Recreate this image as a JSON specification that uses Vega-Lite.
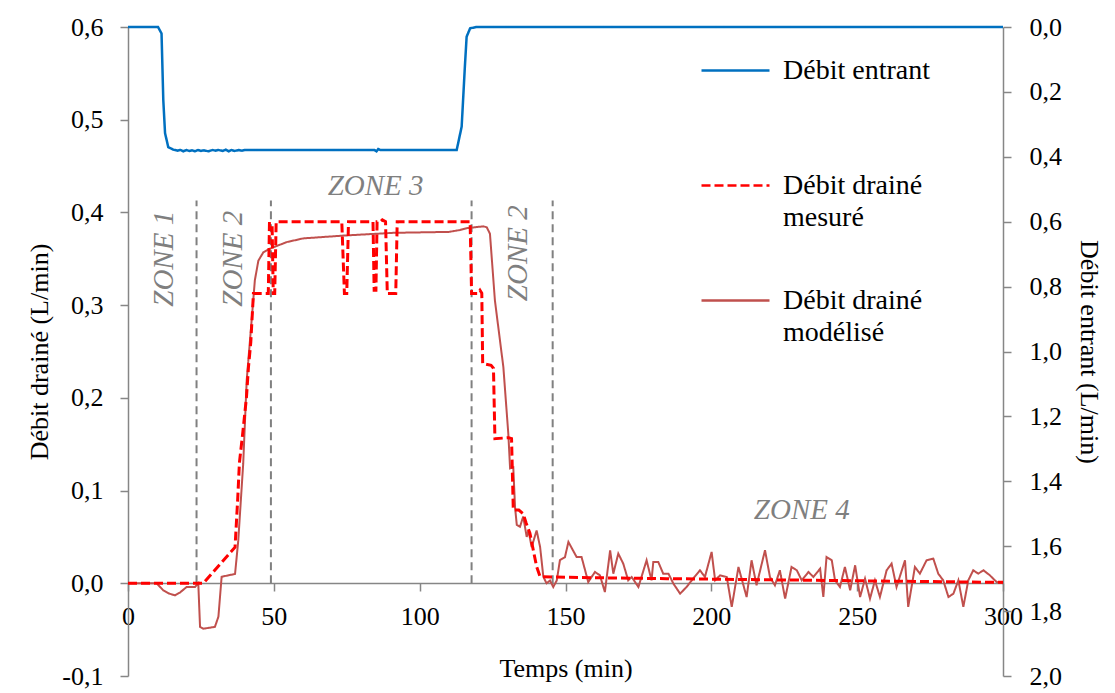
{
  "$schema": "https://vega.github.io/schema/vega-lite/v6.json",
  "width": 875,
  "height": 649,
  "autosize": {"type": "none"},
  "padding": {"left": 128, "top": 27, "right": 112, "bottom": 17},
  "background": "white",
  "config": {
    "view": {"stroke": null},
    "font": "Liberation Serif",
    "axis": {
      "domainColor": "#868686", "tickColor": "#868686", "domainWidth": 1.5, "tickWidth": 1.5, "tickSize": 8,
      "grid": false, "labelFont": "Liberation Serif", "labelFontSize": 26, "labelColor": "black",
      "titleFont": "Liberation Serif", "titleFontSize": 26, "titleFontWeight": "normal", "titleColor": "black"
    },
    "legend": {
      "symbolType": "stroke", "symbolSize": 4624, "symbolStrokeWidth": 2.5,
      "labelFont": "Liberation Serif", "labelFontSize": 28, "labelColor": "black",
      "labelOffset": 12, "rowPadding": 33, "labelLimit": 400
    },
    "style": {"guide-label": {"lineHeight": 32}}
  },
  "datasets": {
    "drained": [
      {"s": "Débit drainé modélisé", "t": 0, "v": 0},
      {"s": "Débit drainé modélisé", "t": 9.8, "v": 0},
      {"s": "Débit drainé modélisé", "t": 12.1, "v": -0.0076},
      {"s": "Débit drainé modélisé", "t": 14, "v": -0.011},
      {"s": "Débit drainé modélisé", "t": 16.1, "v": -0.013},
      {"s": "Débit drainé modélisé", "t": 17.8, "v": -0.010},
      {"s": "Débit drainé modélisé", "t": 20.1, "v": -0.004},
      {"s": "Débit drainé modélisé", "t": 23, "v": -0.004},
      {"s": "Débit drainé modélisé", "t": 24.1, "v": 0},
      {"s": "Débit drainé modélisé", "t": 24.7, "v": -0.047},
      {"s": "Débit drainé modélisé", "t": 25.8, "v": -0.049},
      {"s": "Débit drainé modélisé", "t": 29.8, "v": -0.047},
      {"s": "Débit drainé modélisé", "t": 31, "v": -0.036},
      {"s": "Débit drainé modélisé", "t": 32.1, "v": 0.007},
      {"s": "Débit drainé modélisé", "t": 35, "v": 0.009},
      {"s": "Débit drainé modélisé", "t": 36.7, "v": 0.010},
      {"s": "Débit drainé modélisé", "t": 37.8, "v": 0.046},
      {"s": "Débit drainé modélisé", "t": 39.5, "v": 0.129},
      {"s": "Débit drainé modélisé", "t": 40.7, "v": 0.219},
      {"s": "Débit drainé modélisé", "t": 42.4, "v": 0.284},
      {"s": "Débit drainé modélisé", "t": 43.5, "v": 0.327},
      {"s": "Débit drainé modélisé", "t": 44.7, "v": 0.348},
      {"s": "Débit drainé modélisé", "t": 46.4, "v": 0.357},
      {"s": "Débit drainé modélisé", "t": 48.7, "v": 0.361},
      {"s": "Débit drainé modélisé", "t": 54.4, "v": 0.368},
      {"s": "Débit drainé modélisé", "t": 60.1, "v": 0.372},
      {"s": "Débit drainé modélisé", "t": 73.8, "v": 0.375},
      {"s": "Débit drainé modélisé", "t": 91, "v": 0.378},
      {"s": "Débit drainé modélisé", "t": 110, "v": 0.379},
      {"s": "Débit drainé modélisé", "t": 113.8, "v": 0.381},
      {"s": "Débit drainé modélisé", "t": 116.1, "v": 0.383},
      {"s": "Débit drainé modélisé", "t": 121.8, "v": 0.385},
      {"s": "Débit drainé modélisé", "t": 123, "v": 0.384},
      {"s": "Débit drainé modélisé", "t": 124.1, "v": 0.377},
      {"s": "Débit drainé modélisé", "t": 125.8, "v": 0.305},
      {"s": "Débit drainé modélisé", "t": 128.7, "v": 0.233},
      {"s": "Débit drainé modélisé", "t": 130.4, "v": 0.161},
      {"s": "Débit drainé modélisé", "t": 131, "v": 0.124},
      {"s": "Débit drainé modélisé", "t": 132.1, "v": 0.125},
      {"s": "Débit drainé modélisé", "t": 132.7, "v": 0.082},
      {"s": "Débit drainé modélisé", "t": 133.3, "v": 0.063},
      {"s": "Débit drainé modélisé", "t": 134.4, "v": 0.061},
      {"s": "Débit drainé modélisé", "t": 135.5, "v": 0.072},
      {"s": "Débit drainé modélisé", "t": 136.7, "v": 0.050},
      {"s": "Débit drainé modélisé", "t": 137.3, "v": 0.057},
      {"s": "Débit drainé modélisé", "t": 138.4, "v": 0.039},
      {"s": "Débit drainé modélisé", "t": 140.1, "v": 0.057},
      {"s": "Débit drainé modélisé", "t": 141.3, "v": 0.039},
      {"s": "Débit drainé modélisé", "t": 142.4, "v": 0.007},
      {"s": "Débit drainé modélisé", "t": 143.5, "v": 0},
      {"s": "Débit drainé modélisé", "t": 144.7, "v": 0.003},
      {"s": "Débit drainé modélisé", "t": 145.8, "v": -0.004},
      {"s": "Débit drainé modélisé", "t": 147, "v": 0.003},
      {"s": "Débit drainé modélisé", "t": 148.1, "v": 0.025},
      {"s": "Débit drainé modélisé", "t": 149.8, "v": 0.028},
      {"s": "Débit drainé modélisé", "t": 151, "v": 0.0446},
      {"s": "Débit drainé modélisé", "t": 153.8, "v": 0.0284},
      {"s": "Débit drainé modélisé", "t": 155.5, "v": 0.0284},
      {"s": "Débit drainé modélisé", "t": 157.8, "v": 0.0014},
      {"s": "Débit drainé modélisé", "t": 160.1, "v": 0.0122},
      {"s": "Débit drainé modélisé", "t": 161.8, "v": 0.0086},
      {"s": "Débit drainé modélisé", "t": 163.5, "v": -0.0094},
      {"s": "Débit drainé modélisé", "t": 165.3, "v": 0.0356},
      {"s": "Débit drainé modélisé", "t": 166.4, "v": 0.0104},
      {"s": "Débit drainé modélisé", "t": 168.1, "v": 0.0320},
      {"s": "Débit drainé modélisé", "t": 169.8, "v": 0.0212},
      {"s": "Débit drainé modélisé", "t": 171.5, "v": 0.0032},
      {"s": "Débit drainé modélisé", "t": 172.7, "v": 0.0068},
      {"s": "Débit drainé modélisé", "t": 175.0, "v": -0.0040},
      {"s": "Débit drainé modélisé", "t": 177.8, "v": 0.0248},
      {"s": "Débit drainé modélisé", "t": 179.5, "v": 0.0032},
      {"s": "Débit drainé modélisé", "t": 180.1, "v": 0.0230},
      {"s": "Débit drainé modélisé", "t": 181.8, "v": 0.0230},
      {"s": "Débit drainé modélisé", "t": 183.5, "v": 0.0104},
      {"s": "Débit drainé modélisé", "t": 185.3, "v": 0.0104},
      {"s": "Débit drainé modélisé", "t": 187.0, "v": -0.0004},
      {"s": "Débit drainé modélisé", "t": 189.3, "v": -0.0112},
      {"s": "Débit drainé modélisé", "t": 191.5, "v": -0.0040},
      {"s": "Débit drainé modélisé", "t": 193.3, "v": 0.0032},
      {"s": "Débit drainé modélisé", "t": 196.1, "v": 0.0140},
      {"s": "Débit drainé modélisé", "t": 197.8, "v": 0.0068},
      {"s": "Débit drainé modélisé", "t": 200.1, "v": 0.0338},
      {"s": "Débit drainé modélisé", "t": 201.3, "v": 0.0032},
      {"s": "Débit drainé modélisé", "t": 203.0, "v": 0.0086},
      {"s": "Débit drainé modélisé", "t": 205.3, "v": 0.0068},
      {"s": "Débit drainé modélisé", "t": 207.0, "v": -0.0255},
      {"s": "Débit drainé modélisé", "t": 209.3, "v": 0.0176},
      {"s": "Débit drainé modélisé", "t": 212.1, "v": -0.0148},
      {"s": "Débit drainé modélisé", "t": 213.8, "v": 0.0248},
      {"s": "Débit drainé modélisé", "t": 215.5, "v": -0.0022},
      {"s": "Débit drainé modélisé", "t": 218.4, "v": 0.0356},
      {"s": "Débit drainé modélisé", "t": 220.1, "v": 0.0068},
      {"s": "Débit drainé modélisé", "t": 221.8, "v": -0.0022},
      {"s": "Débit drainé modélisé", "t": 223.5, "v": 0.0140},
      {"s": "Débit drainé modélisé", "t": 225.3, "v": -0.0166},
      {"s": "Débit drainé modélisé", "t": 227.5, "v": 0.0176},
      {"s": "Débit drainé modélisé", "t": 229.3, "v": 0.0140},
      {"s": "Débit drainé modélisé", "t": 231.0, "v": 0.0032},
      {"s": "Débit drainé modélisé", "t": 233.3, "v": 0.0122},
      {"s": "Débit drainé modélisé", "t": 235.0, "v": 0.0068},
      {"s": "Débit drainé modélisé", "t": 237.3, "v": 0.0158},
      {"s": "Débit drainé modélisé", "t": 238.4, "v": -0.0148},
      {"s": "Débit drainé modélisé", "t": 239.5, "v": 0.0284},
      {"s": "Débit drainé modélisé", "t": 241.3, "v": 0.0248},
      {"s": "Débit drainé modélisé", "t": 242.4, "v": 0.0032},
      {"s": "Débit drainé modélisé", "t": 244.1, "v": -0.0040},
      {"s": "Débit drainé modélisé", "t": 245.8, "v": 0.0176},
      {"s": "Débit drainé modélisé", "t": 247.6, "v": -0.0076},
      {"s": "Débit drainé modélisé", "t": 249.3, "v": 0.0194},
      {"s": "Débit drainé modélisé", "t": 251.0, "v": -0.0148},
      {"s": "Débit drainé modélisé", "t": 252.7, "v": 0.0050},
      {"s": "Débit drainé modélisé", "t": 254.4, "v": -0.0166},
      {"s": "Débit drainé modélisé", "t": 256.1, "v": 0.0032},
      {"s": "Débit drainé modélisé", "t": 257.8, "v": -0.0148},
      {"s": "Débit drainé modélisé", "t": 260.1, "v": 0.0140},
      {"s": "Débit drainé modélisé", "t": 261.8, "v": 0.0212},
      {"s": "Débit drainé modélisé", "t": 263.5, "v": -0.0040},
      {"s": "Débit drainé modélisé", "t": 266.4, "v": 0.0248},
      {"s": "Débit drainé modélisé", "t": 267.5, "v": -0.0255},
      {"s": "Débit drainé modélisé", "t": 269.8, "v": 0.0176},
      {"s": "Débit drainé modélisé", "t": 271.5, "v": 0.0104},
      {"s": "Débit drainé modélisé", "t": 273.8, "v": 0.0248},
      {"s": "Débit drainé modélisé", "t": 276.1, "v": 0.0266},
      {"s": "Débit drainé modélisé", "t": 277.8, "v": 0.0104},
      {"s": "Débit drainé modélisé", "t": 279.5, "v": 0.0032},
      {"s": "Débit drainé modélisé", "t": 281.3, "v": -0.0148},
      {"s": "Débit drainé modélisé", "t": 283.0, "v": -0.0112},
      {"s": "Débit drainé modélisé", "t": 284.7, "v": 0.0032},
      {"s": "Débit drainé modélisé", "t": 286.4, "v": -0.0255},
      {"s": "Débit drainé modélisé", "t": 288.1, "v": 0.0032},
      {"s": "Débit drainé modélisé", "t": 289.8, "v": 0.0140},
      {"s": "Débit drainé modélisé", "t": 291.5, "v": 0.0104},
      {"s": "Débit drainé modélisé", "t": 293.3, "v": 0.0140},
      {"s": "Débit drainé modélisé", "t": 295.5, "v": 0.0086},
      {"s": "Débit drainé modélisé", "t": 297.8, "v": 0.0014},
      {"s": "Débit drainé modélisé", "t": 300, "v": 0},
      {"s": "Débit drainé mesuré", "t": 0, "v": 0},
      {"s": "Débit drainé mesuré", "t": 25.8, "v": 0},
      {"s": "Débit drainé mesuré", "t": 36.7, "v": 0.039},
      {"s": "Débit drainé mesuré", "t": 37.6, "v": 0.09},
      {"s": "Débit drainé mesuré", "t": 38.2, "v": 0.13},
      {"s": "Débit drainé mesuré", "t": 39.2, "v": 0.158},
      {"s": "Débit drainé mesuré", "t": 40.6, "v": 0.2},
      {"s": "Débit drainé mesuré", "t": 41.3, "v": 0.233},
      {"s": "Débit drainé mesuré", "t": 42.1, "v": 0.26},
      {"s": "Débit drainé mesuré", "t": 43, "v": 0.3125},
      {"s": "Débit drainé mesuré", "t": 48.1, "v": 0.3125},
      {"s": "Débit drainé mesuré", "t": 48.5, "v": 0.388},
      {"s": "Débit drainé mesuré", "t": 49.4, "v": 0.388},
      {"s": "Débit drainé mesuré", "t": 49.8, "v": 0.3125},
      {"s": "Débit drainé mesuré", "t": 50.3, "v": 0.3125},
      {"s": "Débit drainé mesuré", "t": 50.8, "v": 0.39},
      {"s": "Débit drainé mesuré", "t": 73.3, "v": 0.39},
      {"s": "Débit drainé mesuré", "t": 74.2, "v": 0.3125},
      {"s": "Débit drainé mesuré", "t": 75, "v": 0.3125},
      {"s": "Débit drainé mesuré", "t": 75.6, "v": 0.39},
      {"s": "Débit drainé mesuré", "t": 84, "v": 0.39},
      {"s": "Débit drainé mesuré", "t": 84.4, "v": 0.316},
      {"s": "Débit drainé mesuré", "t": 85, "v": 0.316},
      {"s": "Débit drainé mesuré", "t": 85.4, "v": 0.39},
      {"s": "Débit drainé mesuré", "t": 86.5, "v": 0.39},
      {"s": "Débit drainé mesuré", "t": 87.2, "v": 0.392},
      {"s": "Débit drainé mesuré", "t": 88.3, "v": 0.39},
      {"s": "Débit drainé mesuré", "t": 88.9, "v": 0.3125},
      {"s": "Débit drainé mesuré", "t": 91.8, "v": 0.3125},
      {"s": "Débit drainé mesuré", "t": 92.3, "v": 0.39},
      {"s": "Débit drainé mesuré", "t": 117.3, "v": 0.39},
      {"s": "Débit drainé mesuré", "t": 117.8, "v": 0.3125},
      {"s": "Débit drainé mesuré", "t": 120, "v": 0.3125},
      {"s": "Débit drainé mesuré", "t": 120.7, "v": 0.316},
      {"s": "Débit drainé mesuré", "t": 121.3, "v": 0.313},
      {"s": "Débit drainé mesuré", "t": 121.6, "v": 0.237},
      {"s": "Débit drainé mesuré", "t": 124.5, "v": 0.235},
      {"s": "Débit drainé mesuré", "t": 125.3, "v": 0.232},
      {"s": "Débit drainé mesuré", "t": 125.8, "v": 0.156},
      {"s": "Débit drainé mesuré", "t": 130.5, "v": 0.157},
      {"s": "Débit drainé mesuré", "t": 131.5, "v": 0.156},
      {"s": "Débit drainé mesuré", "t": 132.1, "v": 0.079},
      {"s": "Débit drainé mesuré", "t": 134, "v": 0.079},
      {"s": "Débit drainé mesuré", "t": 135.5, "v": 0.075},
      {"s": "Débit drainé mesuré", "t": 136.5, "v": 0.065},
      {"s": "Débit drainé mesuré", "t": 137.8, "v": 0.054},
      {"s": "Débit drainé mesuré", "t": 139, "v": 0.035},
      {"s": "Débit drainé mesuré", "t": 140.1, "v": 0.018},
      {"s": "Débit drainé mesuré", "t": 141.3, "v": 0.007},
      {"s": "Débit drainé mesuré", "t": 160, "v": 0.006},
      {"s": "Débit drainé mesuré", "t": 184.7, "v": 0.005},
      {"s": "Débit drainé mesuré", "t": 241.8, "v": 0.003},
      {"s": "Débit drainé mesuré", "t": 270, "v": 0.002},
      {"s": "Débit drainé mesuré", "t": 300, "v": 0.001}
    ],
    "inflow": [
      {"s": "Débit entrant", "t": 0, "v": 0},
      {"s": "Débit entrant", "t": 10.3, "v": 0},
      {"s": "Débit entrant", "t": 11.5, "v": 0.02},
      {"s": "Débit entrant", "t": 12.1, "v": 0.225},
      {"s": "Débit entrant", "t": 12.7, "v": 0.327},
      {"s": "Débit entrant", "t": 13.8, "v": 0.37},
      {"s": "Débit entrant", "t": 15.5, "v": 0.378},
      {"s": "Débit entrant", "t": 17, "v": 0.381},
      {"s": "Débit entrant", "t": 18, "v": 0.379},
      {"s": "Débit entrant", "t": 19, "v": 0.383},
      {"s": "Débit entrant", "t": 20, "v": 0.379},
      {"s": "Débit entrant", "t": 21, "v": 0.382},
      {"s": "Débit entrant", "t": 22, "v": 0.38},
      {"s": "Débit entrant", "t": 23, "v": 0.383},
      {"s": "Débit entrant", "t": 24, "v": 0.379},
      {"s": "Débit entrant", "t": 25, "v": 0.382},
      {"s": "Débit entrant", "t": 26, "v": 0.38},
      {"s": "Débit entrant", "t": 27.5, "v": 0.383},
      {"s": "Débit entrant", "t": 29, "v": 0.379},
      {"s": "Débit entrant", "t": 30, "v": 0.381},
      {"s": "Débit entrant", "t": 31, "v": 0.379},
      {"s": "Débit entrant", "t": 32.5, "v": 0.382},
      {"s": "Débit entrant", "t": 33.5, "v": 0.378},
      {"s": "Débit entrant", "t": 34.5, "v": 0.383},
      {"s": "Débit entrant", "t": 35.5, "v": 0.379},
      {"s": "Débit entrant", "t": 36.5, "v": 0.382},
      {"s": "Débit entrant", "t": 38, "v": 0.379},
      {"s": "Débit entrant", "t": 39, "v": 0.381},
      {"s": "Débit entrant", "t": 40, "v": 0.379},
      {"s": "Débit entrant", "t": 84.5, "v": 0.379},
      {"s": "Débit entrant", "t": 85.2, "v": 0.383},
      {"s": "Débit entrant", "t": 85.8, "v": 0.376},
      {"s": "Débit entrant", "t": 86.5, "v": 0.379},
      {"s": "Débit entrant", "t": 112.7, "v": 0.379},
      {"s": "Débit entrant", "t": 114.4, "v": 0.307},
      {"s": "Débit entrant", "t": 115.5, "v": 0.122},
      {"s": "Débit entrant", "t": 116.1, "v": 0.03},
      {"s": "Débit entrant", "t": 117.3, "v": 0.004},
      {"s": "Débit entrant", "t": 119.5, "v": 0},
      {"s": "Débit entrant", "t": 300, "v": 0}
    ],
    "zoneLines": [
      {"t": 23.5, "v0": 0, "v1": 0.413},
      {"t": 49.0, "v0": 0, "v1": 0.413},
      {"t": 117.8, "v0": 0, "v1": 0.413},
      {"t": 145.6, "v0": 0, "v1": 0.413}
    ],
    "zoneVertical": [
      {"label": "ZONE 1", "t": 12.2, "v": 0.35},
      {"label": "ZONE 2", "t": 36.1, "v": 0.35},
      {"label": "ZONE 2", "t": 133.8, "v": 0.356}
    ],
    "zoneHorizontal": [
      {"label": "ZONE 3", "t": 84.9, "v": 0.429},
      {"label": "ZONE 4", "t": 231, "v": 0.079}
    ]
  },
  "layer": [
    {
      "layer": [
        {
          "data": {"name": "zoneLines"},
          "mark": {"type": "rule", "color": "#808080", "strokeWidth": 2, "strokeDash": [8, 5]},
          "encoding": {
            "x": {"field": "t", "type": "quantitative", "scale": {"domain": [0, 300], "nice": false}},
            "y": {"field": "v0", "type": "quantitative", "scale": {"domain": [-0.1, 0.6], "nice": false, "zero": false}},
            "y2": {"field": "v1"}
          }
        },
        {
          "data": {"name": "drained"},
          "transform": [{"filter": "datum.s == 'Débit drainé modélisé'"}],
          "mark": {"type": "line", "strokeWidth": 2, "interpolate": "linear"},
          "encoding": {
            "x": {"field": "t", "type": "quantitative", "sort": null, "scale": {"domain": [0, 300], "nice": false},
              "title": "Temps (min)",
              "axis": {"values": [0, 50, 100, 150, 200, 250, 300], "offset": -93, "labelPadding": 12, "titlePadding": 26, "labelFlush": false, "labelOverlap": false}},
            "y": {"field": "v", "type": "quantitative", "scale": {"domain": [-0.1, 0.6], "nice": false, "zero": false},
              "title": "Débit drainé (L/min)",
              "axis": {"orient": "left", "values": [-0.1, 0, 0.1, 0.2, 0.3, 0.4, 0.5, 0.6], "labelPadding": 17, "titlePadding": 9,
                "labelExpr": "replace(replace(format(datum.value, '.1f'), '.', ','), '\u2212', '-')"}},
            "order": {"field": "t", "type": "quantitative"},
            "color": {"field": "s", "type": "nominal",
              "scale": {"domain": ["Débit entrant", "Débit drainé mesuré", "Débit drainé modélisé"], "range": ["#0070C0", "#FF0000", "#C0504D"]},
              "legend": {"title": null, "orient": "none", "legendX": 572, "legendY": 8,
                "labelExpr": "datum.label == 'Débit entrant' ? ['Débit entrant', ''] : datum.label == 'Débit drainé mesuré' ? ['Débit drainé', 'mesuré'] : ['Débit drainé', 'modélisé']"}},
            "strokeDash": {"field": "s", "type": "nominal",
              "scale": {"domain": ["Débit entrant", "Débit drainé mesuré", "Débit drainé modélisé"], "range": [[1, 0], [9, 4], [1, 0]]},
              "legend": {"title": null, "orient": "none", "legendX": 572, "legendY": 8,
                "labelExpr": "datum.label == 'Débit entrant' ? ['Débit entrant', ''] : datum.label == 'Débit drainé mesuré' ? ['Débit drainé', 'mesuré'] : ['Débit drainé', 'modélisé']"}}
          }
        },
        {
          "data": {"name": "drained"},
          "transform": [{"filter": "datum.s == 'Débit drainé mesuré'"}],
          "mark": {"type": "line", "strokeWidth": 3, "interpolate": "linear"},
          "encoding": {
            "x": {"field": "t", "type": "quantitative", "scale": {"domain": [0, 300], "nice": false}},
            "y": {"field": "v", "type": "quantitative", "scale": {"domain": [-0.1, 0.6], "nice": false, "zero": false}},
            "order": {"field": "t", "type": "quantitative"},
            "color": {"field": "s", "type": "nominal"},
            "strokeDash": {"field": "s", "type": "nominal"}
          }
        },
        {
          "data": {"name": "zoneVertical"},
          "mark": {"type": "text", "angle": 270, "font": "Liberation Serif", "fontStyle": "italic", "fontSize": 29, "color": "#7F7F7F", "align": "center", "baseline": "middle"},
          "encoding": {
            "x": {"field": "t", "type": "quantitative", "scale": {"domain": [0, 300], "nice": false}},
            "y": {"field": "v", "type": "quantitative", "scale": {"domain": [-0.1, 0.6], "nice": false, "zero": false}},
            "text": {"field": "label"}
          }
        },
        {
          "data": {"name": "zoneHorizontal"},
          "mark": {"type": "text", "font": "Liberation Serif", "fontStyle": "italic", "fontSize": 29, "color": "#7F7F7F", "align": "center", "baseline": "middle"},
          "encoding": {
            "x": {"field": "t", "type": "quantitative", "scale": {"domain": [0, 300], "nice": false}},
            "y": {"field": "v", "type": "quantitative", "scale": {"domain": [-0.1, 0.6], "nice": false, "zero": false}},
            "text": {"field": "label"}
          }
        }
      ]
    },
    {
      "data": {"name": "inflow"},
      "mark": {"type": "line", "strokeWidth": 2.5, "interpolate": "linear"},
      "encoding": {
        "x": {"field": "t", "type": "quantitative", "scale": {"domain": [0, 300], "nice": false}},
        "y": {"field": "v", "type": "quantitative", "scale": {"domain": [0, 2], "nice": false, "zero": false, "reverse": true},
          "title": "Débit entrant (L/min)",
          "axis": {"orient": "right", "values": [0, 0.2, 0.4, 0.6, 0.8, 1, 1.2, 1.4, 1.6, 1.8, 2], "labelPadding": 18, "titlePadding": 14,
            "labelExpr": "replace(format(datum.value, '.1f'), '.', ',')"}},
        "order": {"field": "t", "type": "quantitative"},
        "color": {"field": "s", "type": "nominal"},
        "strokeDash": {"field": "s", "type": "nominal"}
      }
    }
  ],
  "resolve": {"scale": {"y": "independent"}}
}
